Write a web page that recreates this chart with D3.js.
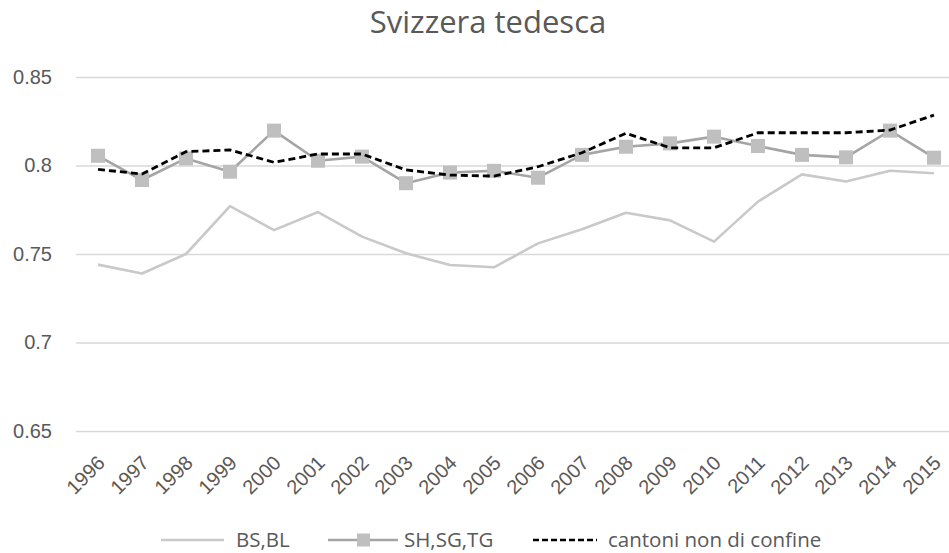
<!DOCTYPE html>
<html lang="it">
<head>
<meta charset="UTF-8">
<title>Svizzera tedesca</title>
<style>
  body { margin: 0; background: #fff; }
  svg { font-family: "Open Sans", Lato, sans-serif; }
  .tick text { fill: #595959; font-size: 20px; }
  .legend text { fill: #595959; font-size: 20.5px; }
</style>
</head>
<body>
<div id="chart"></div>
<script src="https://d3js.org/d3.v7.min.js"></script>
<script>
const years = ["1996","1997","1998","1999","2000","2001","2002","2003","2004","2005",
               "2006","2007","2008","2009","2010","2011","2012","2013","2014","2015"];
const bsbl = [0.744,0.739,0.750,0.777,0.7635,0.7737,0.7598,0.7504,0.7438,0.7425,
              0.756,0.764,0.7733,0.769,0.757,0.7796,0.795,0.791,0.797,0.7956];
const shsgtg = [0.8055,0.7918,0.804,0.7965,0.8197,0.8027,0.805,0.790,0.796,0.797,
                0.7931,0.806,0.8106,0.8125,0.8163,0.811,0.806,0.8046,0.8197,0.8044];
const nonConfine = [0.7978,0.7952,0.8078,0.8088,0.8018,0.8065,0.8065,0.7975,0.7946,0.794,
                    0.7993,0.8072,0.8182,0.810,0.810,0.8185,0.8185,0.8185,0.820,0.8285];
const yTicks = [0.65, 0.7, 0.75, 0.8, 0.85];
const seriesNames = ["BS,BL", "SH,SG,TG", "cantoni non di confine"];

const W = 949, H = 553;
const svg = d3.select("#chart").append("svg")
    .attr("width", W).attr("height", H);

const x = d3.scaleBand().domain(years).range([76, 956]);
const y = d3.scaleLinear().domain([0.65, 0.85]).range([431, 77]);
const cx = d => x(d) + x.bandwidth() / 2;

// title
svg.append("text")
    .attr("x", 488).attr("y", 33)
    .attr("text-anchor", "middle")
    .attr("fill", "#595959")
    .style("font-size", "31px")
    .text("Svizzera tedesca");

// gridlines + y labels
const yAxis = svg.append("g")
    .attr("transform", "translate(76,0)")
    .call(d3.axisLeft(y).tickValues(yTicks).tickSize(-(W - 76)).tickPadding(24)
        .tickFormat(d => String(+d.toFixed(2))));
yAxis.select(".domain").remove();
yAxis.selectAll(".tick line").attr("stroke", "#d9d9d9").attr("stroke-width", 1.3);

// x labels
const xAxis = svg.append("g")
    .attr("transform", "translate(0,431)")
    .call(d3.axisBottom(x).tickSize(0));
xAxis.select(".domain").remove();
xAxis.selectAll(".tick text")
    .attr("text-anchor", "end")
    .attr("dx", 0).attr("dy", 0)
    .attr("transform", "translate(6,31) rotate(-45)");

const line = d3.line().x((d, i) => cx(years[i])).y(d => y(d));

svg.append("path").datum(bsbl)
    .attr("fill", "none").attr("stroke", "#c9c9c9").attr("stroke-width", 2.6)
    .attr("stroke-linejoin", "round").attr("d", line);

svg.append("path").datum(shsgtg)
    .attr("fill", "none").attr("stroke", "#a5a5a5").attr("stroke-width", 2.6)
    .attr("stroke-linejoin", "round").attr("d", line);

svg.selectAll("rect.mk").data(shsgtg).enter().append("rect")
    .attr("class", "mk")
    .attr("x", (d, i) => cx(years[i]) - 7)
    .attr("y", d => y(d) - 7)
    .attr("width", 14).attr("height", 14)
    .attr("fill", "#bfbfbf");

svg.append("path").datum(nonConfine)
    .attr("fill", "none").attr("stroke", "#000").attr("stroke-width", 2.8)
    .attr("stroke-dasharray", "7,4").attr("d", line);

// legend
const lg = svg.append("g").attr("class", "legend");
const ly = 540;
lg.append("line").attr("x1", 161).attr("x2", 224).attr("y1", ly).attr("y2", ly)
    .attr("stroke", "#c9c9c9").attr("stroke-width", 2.6);
lg.append("text").attr("x", 236).attr("y", ly + 7).text(seriesNames[0]);
lg.append("line").attr("x1", 328).attr("x2", 398).attr("y1", ly).attr("y2", ly)
    .attr("stroke", "#a5a5a5").attr("stroke-width", 2.6);
lg.append("rect").attr("x", 357).attr("y", ly - 6.5).attr("width", 13).attr("height", 13)
    .attr("fill", "#bfbfbf");
lg.append("text").attr("x", 404).attr("y", ly + 7).text(seriesNames[1]);
lg.append("line").attr("x1", 533).attr("x2", 597).attr("y1", ly).attr("y2", ly)
    .attr("stroke", "#000").attr("stroke-width", 2.6).attr("stroke-dasharray", "6,3");
lg.append("text").attr("x", 608).attr("y", ly + 7).text(seriesNames[2]);
</script>
</body>
</html>
